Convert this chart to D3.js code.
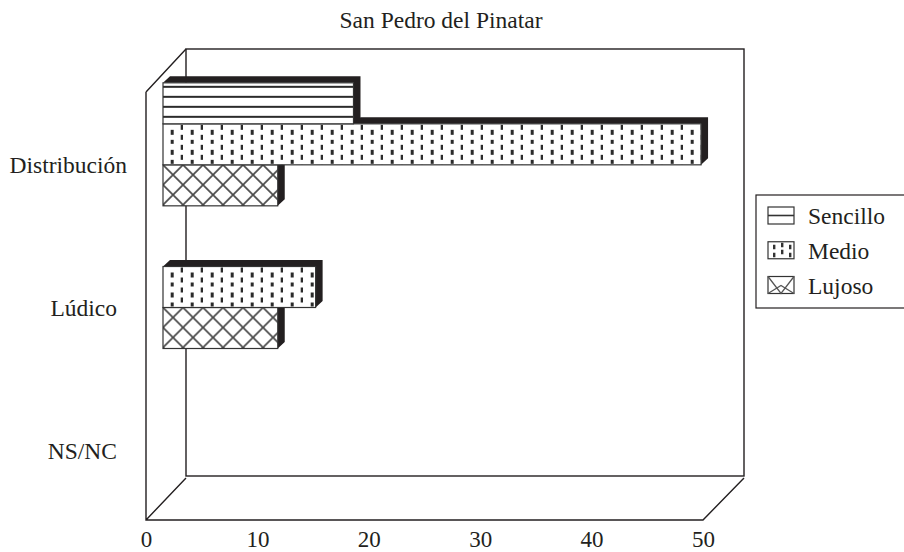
<!DOCTYPE html>
<html>
<head>
<meta charset="utf-8">
<script src="https://cdn.jsdelivr.net/npm/d3@7"></script>
<style>
  html, body { margin: 0; padding: 0; background: #fff; }
  svg { display: block; }
  text { font-family: "Liberation Serif", serif; fill: #231f20; }
</style>
</head>
<body>
<div id="chart"></div>
<script>
// Chart data
const categories = ['Distribución', 'Lúdico', 'NS/NC'];
const seriesNames = ['Sencillo', 'Medio', 'Lujoso'];
const sencillo = [17.1, 0, 0];
const medio = [48.3, 13.7, 0];
const lujoso = [10.3, 10.3, 0];
const seriesValues = [sencillo, medio, lujoso];
const xTicks = [0, 10, 20, 30, 40, 50];

const ink = '#231f20';
const svgWidth = 904, svgHeight = 552;

let svg = d3.select('#chart').append('svg')
    .attr('width', svgWidth)
    .attr('height', svgHeight);

let defs = svg.append('defs');

// Front plane of the plot box, and how far the back wall is pushed
let xScale = d3.scaleLinear().domain([0, 50]).range([146, 703]);
let yScale = d3.scaleBand().domain(categories).range([92, 520]);
let wall = { dx: 40, dy: -43 };
let barShift = { dx: 17, dy: -19 };
let barDepth = { dx: 7, dy: -6.5 };

let innerScale = d3.scaleBand()
    .domain(seriesNames)
    .range([0, 123]);
let groupPad = (yScale.bandwidth() - 123) / 2;

// Each pattern is anchored on the corner of its own bar
function addPattern(id, kind, x, y) {
    let size = kind === 'lines' ? [20, 10] : [20, 20];
    let p = defs.append('pattern')
        .attr('id', id)
        .attr('patternUnits', 'userSpaceOnUse')
        .attr('x', x)
        .attr('y', y)
        .attr('width', size[0])
        .attr('height', size[1]);
    if (kind === 'lines') {
        p.append('rect')
            .attr('x', 0).attr('y', 3)
            .attr('width', 20).attr('height', 2)
            .attr('fill', '#2b2b2b');
    } else if (kind === 'dots') {
        [[7.7, 6], [7.7, 16], [17.7, 1], [17.7, 11]].forEach(d => {
            p.append('rect')
                .attr('x', d[0]).attr('y', d[1])
                .attr('width', 3).attr('height', 5)
                .attr('fill', '#2b2b2b');
        });
    } else {
        p.append('path')
            .attr('d', 'M0,0L20,20M20,0L0,20')
            .attr('stroke', '#4a4a4a')
            .attr('stroke-width', 1.7);
    }
}

const kinds = { Sencillo: 'lines', Medio: 'dots', Lujoso: 'cross' };

// Plot box
let box = svg.append('g')
    .attr('fill', 'none')
    .attr('stroke', ink)
    .attr('stroke-width', 1.4);

let left = xScale(0), right = xScale(50);
let top0 = yScale.range()[0], bottom = yScale.range()[1];

box.append('rect')
    .attr('x', left + wall.dx)
    .attr('y', top0 + wall.dy)
    .attr('width', right - left + 1)
    .attr('height', bottom - top0 - 1);

box.append('path')
    .attr('d', `M${left},${top0}L${left + wall.dx},${top0 + wall.dy}` +
        `M${left},${top0}L${left},${bottom}L${right},${bottom}` +
        `L${right + wall.dx + 1},${bottom + wall.dy + 1}` +
        `M${left},${bottom}L${left + wall.dx},${bottom + wall.dy + 1}`);

// Bars, lowest first so the upper bar's face hides the top of the one under it
let bars = [];
seriesNames.forEach((name, s) => {
    categories.forEach((cat, c) => {
        if (seriesValues[s][c] > 0) {
            bars.push({ name: name, cat: cat, c: c, s: s, value: seriesValues[s][c] });
        }
    });
});
bars.sort((a, b) => b.s - a.s);

let barGroup = svg.append('g');

bars.forEach(d => {
    let x0 = xScale(0) + barShift.dx;
    let x1 = xScale(d.value) + barShift.dx;
    let y0 = yScale(d.cat) + groupPad + innerScale(d.name) + barShift.dy;
    let y1 = y0 + innerScale.bandwidth();
    let id = `pat-${d.name}-${d.c}`;
    addPattern(id, kinds[d.name], x0, y0);

    barGroup.append('path')
        .attr('d', `M${x0},${y0}L${x0 + barDepth.dx},${y0 + barDepth.dy}` +
            `L${x1 + barDepth.dx},${y0 + barDepth.dy}L${x1 + barDepth.dx},${y1 + barDepth.dy}L${x1},${y1}L${x1},${y0}Z`)
        .attr('fill', '#231f20');

    barGroup.append('rect')
        .attr('x', x0)
        .attr('y', y0)
        .attr('width', x1 - x0)
        .attr('height', y1 - y0)
        .attr('fill', '#fff');

    barGroup.append('rect')
        .attr('x', x0)
        .attr('y', y0)
        .attr('width', x1 - x0)
        .attr('height', y1 - y0)
        .attr('fill', `url(#${id})`)
        .attr('stroke', '#333')
        .attr('stroke-width', 1.2);
});

// Axes, tick marks hidden
let xAxis = svg.append('g')
    .attr('transform', `translate(0, ${bottom})`)
    .call(d3.axisBottom(xScale).tickValues(xTicks).tickSize(0).tickPadding(10.5));
xAxis.select('.domain').remove();
xAxis.selectAll('text')
    .style('font-family', '"Liberation Serif", serif')
    .style('font-size', '23px')
    .attr('fill', ink);

let yAxis = svg.append('g')
    .attr('transform', `translate(117, 0)`)
    .call(d3.axisLeft(yScale).tickSize(0).tickPadding(0));
yAxis.select('.domain').remove();
yAxis.selectAll('text')
    .style('font-family', '"Liberation Serif", serif')
    .style('font-size', '23.5px')
    .attr('fill', ink)
    .attr('dy', '0.425em')
    .attr('x', (d, i) => i === 0 ? 10 : 0);

// Title
svg.append('text')
    .attr('x', 441)
    .attr('y', 27.5)
    .attr('text-anchor', 'middle')
    .style('font-size', '23.5px')
    .text('San Pedro del Pinatar');

// Legend, its box runs off the right edge
let legend = svg.append('g');
legend.append('rect')
    .attr('x', 756)
    .attr('y', 195)
    .attr('width', 170)
    .attr('height', 113)
    .attr('fill', '#fff')
    .attr('stroke', ink)
    .attr('stroke-width', 1.2);

let legendY = d3.scalePoint().domain(seriesNames).range([215.5, 285]);

seriesNames.forEach(name => {
    let cy = legendY(name);
    let sw = legend.append('g').attr('transform', `translate(768, ${cy - 8.5})`);
    sw.append('rect')
        .attr('width', 26).attr('height', 17)
        .attr('fill', '#fff')
        .attr('stroke', '#333')
        .attr('stroke-width', 1.2);
    if (kinds[name] === 'lines') {
        sw.append('path').attr('d', 'M0,8.5H26').attr('stroke', '#333').attr('stroke-width', 1.6);
    } else if (kinds[name] === 'dots') {
        [[5, 3], [5, 11], [13, 1], [13, 8], [21, 3], [21, 11]].forEach(p => {
            sw.append('rect')
                .attr('x', p[0]).attr('y', p[1])
                .attr('width', 2.4).attr('height', 4.5)
                .attr('fill', '#333');
        });
    } else {
        sw.append('path').attr('d', 'M0,0L13,17L26,0M0,17L13,9L26,17').attr('fill', 'none').attr('stroke', '#555').attr('stroke-width', 1.3);
    }
    legend.append('text')
        .attr('x', 808)
        .attr('y', cy + 8.5)
        .style('font-size', '23.5px')
        .text(name);
});
</script>
</body>
</html>
